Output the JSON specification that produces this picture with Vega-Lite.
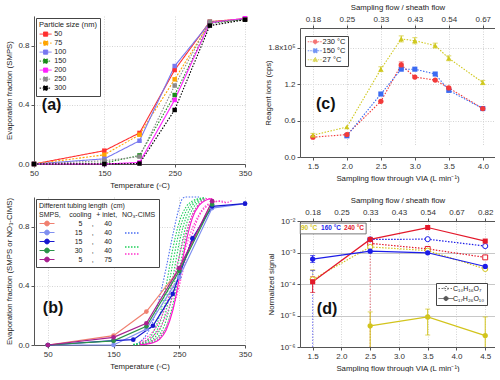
{
"$schema": "https://vega.github.io/schema/vega-lite/v6.json",
"padding": {"left": 5, "top": 3, "right": 0, "bottom": 0},
"config": {
  "font": "Liberation Sans",
  "view": {"stroke": null},
  "axis": {"labelFontSize": 8, "titleFontSize": 7.8, "titleFontWeight": "normal", "labelColor": "#333", "titleColor": "#222", "domainColor": "#555", "tickColor": "#555", "tickSize": 3, "gridColor": "#d4d4d4", "gridDash": [1, 1.5], "labelPadding": 2, "titlePadding": 4, "labelFlush": false, "labelOverlap": false},
  "legend": {"labelColor": "#222", "titleColor": "#222"}
},
"datasets": {
  "a": [
    {"s":"50","T":50,"f":0},{"s":"50","T":150,"f":0.09},{"s":"50","T":200,"f":0.21},{"s":"50","T":250,"f":0.635},{"s":"50","T":300,"f":0.962},{"s":"50","T":350,"f":0.982},
    {"s":"75","T":50,"f":0},{"s":"75","T":150,"f":0.062},{"s":"75","T":200,"f":0.198},{"s":"75","T":250,"f":0.572},{"s":"75","T":300,"f":0.955},{"s":"75","T":350,"f":0.978},
    {"s":"100","T":50,"f":0},{"s":"100","T":150,"f":0.035},{"s":"100","T":200,"f":0.157},{"s":"100","T":250,"f":0.662},{"s":"100","T":300,"f":0.955},{"s":"100","T":350,"f":0.98},
    {"s":"150","T":50,"f":0},{"s":"150","T":150,"f":0.006},{"s":"150","T":200,"f":0.058},{"s":"150","T":250,"f":0.466},{"s":"150","T":300,"f":0.95},{"s":"150","T":350,"f":0.978},
    {"s":"200","T":50,"f":0},{"s":"200","T":150,"f":0},{"s":"200","T":200,"f":0.01},{"s":"200","T":250,"f":0.433},{"s":"200","T":300,"f":0.955},{"s":"200","T":350,"f":0.985},
    {"s":"250","T":50,"f":0},{"s":"250","T":150,"f":0.022},{"s":"250","T":200,"f":0.05},{"s":"250","T":250,"f":0.53},{"s":"250","T":300,"f":0.962},{"s":"250","T":350,"f":0.975},
    {"s":"300","T":50,"f":0},{"s":"300","T":150,"f":0},{"s":"300","T":200,"f":0.003},{"s":"300","T":250,"f":0.365},{"s":"300","T":300,"f":0.935},{"s":"300","T":350,"f":0.975}
  ],
  "bs": [
    {"s":"s1","T":50,"f":0},{"s":"s1","T":150,"f":0.063},{"s":"s1","T":200,"f":0.226},{"s":"s1","T":250,"f":0.51},{"s":"s1","T":300,"f":0.97},
    {"s":"s2","T":50,"f":0},{"s":"s2","T":150,"f":0},{"s":"s2","T":200,"f":0.108},{"s":"s2","T":250,"f":0.458},{"s":"s2","T":300,"f":0.925},{"s":"s2","T":350,"f":0.955},
    {"s":"s3","T":50,"f":0},{"s":"s3","T":150,"f":0.03},{"s":"s3","T":180,"f":0.036},{"s":"s3","T":210,"f":0.13},{"s":"s3","T":240,"f":0.345},{"s":"s3","T":270,"f":0.72},{"s":"s3","T":300,"f":0.937},{"s":"s3","T":350,"f":0.955},
    {"s":"s4","T":50,"f":0},{"s":"s4","T":150,"f":0.028},{"s":"s4","T":200,"f":0.126},{"s":"s4","T":250,"f":0.5},{"s":"s4","T":300,"f":0.95},
    {"s":"s5","T":50,"f":0},{"s":"s5","T":150,"f":0.052},{"s":"s5","T":200,"f":0.147},{"s":"s5","T":250,"f":0.52},{"s":"s5","T":300,"f":0.972}
  ],
  "bn": [
    {"c":"b1","r":"r2","T":180,"f":0},{"c":"b1","r":"r2","T":190,"f":0.02},{"c":"b1","r":"r2","T":200,"f":0.07},{"c":"b1","r":"r2","T":210,"f":0.16},{"c":"b1","r":"r2","T":220,"f":0.32},{"c":"b1","r":"r2","T":230,"f":0.52},{"c":"b1","r":"r2","T":240,"f":0.74},{"c":"b1","r":"r2","T":250,"f":0.93},{"c":"b1","r":"r2","T":255,"f":0.99},{"c":"b1","r":"r2","T":260,"f":1},{"c":"b1","r":"r2","T":270,"f":1},{"c":"b1","r":"r2","T":280,"f":1},
    {"c":"g1","r":"r4","T":180,"f":0.005},{"c":"g1","r":"r4","T":190,"f":0.012},{"c":"g1","r":"r4","T":200,"f":0.032},{"c":"g1","r":"r4","T":210,"f":0.083},{"c":"g1","r":"r4","T":220,"f":0.198},{"c":"g1","r":"r4","T":230,"f":0.4},{"c":"g1","r":"r4","T":240,"f":0.646},{"c":"g1","r":"r4","T":250,"f":0.832},{"c":"g1","r":"r4","T":260,"f":0.931},{"c":"g1","r":"r4","T":270,"f":0.973},{"c":"g1","r":"r4","T":280,"f":0.99},{"c":"g1","r":"r4","T":290,"f":0.996},
    {"c":"g2","r":"r4","T":180,"f":0.003},{"c":"g2","r":"r4","T":190,"f":0.008},{"c":"g2","r":"r4","T":200,"f":0.022},{"c":"g2","r":"r4","T":210,"f":0.057},{"c":"g2","r":"r4","T":220,"f":0.142},{"c":"g2","r":"r4","T":230,"f":0.31},{"c":"g2","r":"r4","T":240,"f":0.55},{"c":"g2","r":"r4","T":250,"f":0.769},{"c":"g2","r":"r4","T":260,"f":0.9},{"c":"g2","r":"r4","T":270,"f":0.961},{"c":"g2","r":"r4","T":280,"f":0.985},{"c":"g2","r":"r4","T":290,"f":0.995},
    {"c":"g3","r":"r4","T":180,"f":0.002},{"c":"g3","r":"r4","T":190,"f":0.006},{"c":"g3","r":"r4","T":200,"f":0.015},{"c":"g3","r":"r4","T":210,"f":0.039},{"c":"g3","r":"r4","T":220,"f":0.1},{"c":"g3","r":"r4","T":230,"f":0.232},{"c":"g3","r":"r4","T":240,"f":0.45},{"c":"g3","r":"r4","T":250,"f":0.69},{"c":"g3","r":"r4","T":260,"f":0.858},{"c":"g3","r":"r4","T":270,"f":0.943},{"c":"g3","r":"r4","T":280,"f":0.978},{"c":"g3","r":"r4","T":290,"f":0.992},
    {"c":"g4","r":"r4","T":190,"f":0.004},{"c":"g4","r":"r4","T":200,"f":0.01},{"c":"g4","r":"r4","T":210,"f":0.027},{"c":"g4","r":"r4","T":220,"f":0.069},{"c":"g4","r":"r4","T":230,"f":0.168},{"c":"g4","r":"r4","T":240,"f":0.354},{"c":"g4","r":"r4","T":250,"f":0.599},{"c":"g4","r":"r4","T":260,"f":0.802},{"c":"g4","r":"r4","T":270,"f":0.917},{"c":"g4","r":"r4","T":280,"f":0.968},{"c":"g4","r":"r4","T":290,"f":0.988},
    {"c":"g5","r":"r4","T":190,"f":0.003},{"c":"g5","r":"r4","T":200,"f":0.007},{"c":"g5","r":"r4","T":210,"f":0.018},{"c":"g5","r":"r4","T":220,"f":0.047},{"c":"g5","r":"r4","T":230,"f":0.119},{"c":"g5","r":"r4","T":240,"f":0.269},{"c":"g5","r":"r4","T":250,"f":0.5},{"c":"g5","r":"r4","T":260,"f":0.731},{"c":"g5","r":"r4","T":270,"f":0.881},{"c":"g5","r":"r4","T":280,"f":0.953},{"c":"g5","r":"r4","T":290,"f":0.982},
    {"c":"m1","r":"r5","T":190,"f":0.01},{"c":"m1","r":"r5","T":200,"f":0.03},{"c":"m1","r":"r5","T":210,"f":0.06},{"c":"m1","r":"r5","T":220,"f":0.11},{"c":"m1","r":"r5","T":230,"f":0.2},{"c":"m1","r":"r5","T":240,"f":0.33},{"c":"m1","r":"r5","T":250,"f":0.5},{"c":"m1","r":"r5","T":260,"f":0.66},{"c":"m1","r":"r5","T":270,"f":0.79},{"c":"m1","r":"r5","T":280,"f":0.88},{"c":"m1","r":"r5","T":290,"f":0.94},{"c":"m1","r":"r5","T":300,"f":0.96},{"c":"m1","r":"r5","T":310,"f":0.97},{"c":"m1","r":"r5","T":320,"f":0.962},{"c":"m1","r":"r5","T":330,"f":0.975},
    {"c":"m2","r":"r5","T":200,"f":0.01},{"c":"m2","r":"r5","T":210,"f":0.03},{"c":"m2","r":"r5","T":220,"f":0.06},{"c":"m2","r":"r5","T":230,"f":0.12},{"c":"m2","r":"r5","T":240,"f":0.24},{"c":"m2","r":"r5","T":250,"f":0.4},{"c":"m2","r":"r5","T":260,"f":0.58},{"c":"m2","r":"r5","T":270,"f":0.75},{"c":"m2","r":"r5","T":280,"f":0.87},{"c":"m2","r":"r5","T":290,"f":0.93},{"c":"m2","r":"r5","T":300,"f":0.958},{"c":"m2","r":"r5","T":310,"f":0.975},{"c":"m2","r":"r5","T":320,"f":0.968},
    {"c":"m3","r":"r5","T":190,"f":0.02},{"c":"m3","r":"r5","T":200,"f":0.05},{"c":"m3","r":"r5","T":210,"f":0.09},{"c":"m3","r":"r5","T":220,"f":0.16},{"c":"m3","r":"r5","T":230,"f":0.27},{"c":"m3","r":"r5","T":240,"f":0.42},{"c":"m3","r":"r5","T":250,"f":0.6},{"c":"m3","r":"r5","T":260,"f":0.76},{"c":"m3","r":"r5","T":270,"f":0.88},{"c":"m3","r":"r5","T":280,"f":0.95},{"c":"m3","r":"r5","T":290,"f":0.99},{"c":"m3","r":"r5","T":300,"f":0.985}
  ],
  "bm": [
    {"T":190,"f":0.002},{"T":200,"f":0.006},{"T":210,"f":0.015},{"T":220,"f":0.039},{"T":230,"f":0.1},{"T":240,"f":0.23},{"T":250,"f":0.45},{"T":260,"f":0.69},{"T":270,"f":0.858},{"T":280,"f":0.943},{"T":290,"f":0.978},{"T":300,"f":0.99}
  ],
  "c": [
    {"s":"230 °C","x":1.5,"v":0.327},{"s":"230 °C","x":2.0,"v":0.37},{"s":"230 °C","x":2.5,"v":0.92},{"s":"230 °C","x":2.8,"v":1.52,"lo":1.47,"hi":1.57},{"s":"230 °C","x":3.0,"v":1.32},{"s":"230 °C","x":3.3,"v":1.27},{"s":"230 °C","x":3.5,"v":1.14},{"s":"230 °C","x":4.0,"v":0.8},
    {"s":"150 °C","x":2.0,"v":0.35},{"s":"150 °C","x":2.5,"v":1.04},{"s":"150 °C","x":2.8,"v":1.45},{"s":"150 °C","x":3.0,"v":1.45},{"s":"150 °C","x":3.3,"v":1.37},{"s":"150 °C","x":3.5,"v":1.1},{"s":"150 °C","x":4.0,"v":0.8},
    {"s":"27 °C","x":1.5,"v":0.36,"lo":0.33,"hi":0.39},{"s":"27 °C","x":2.0,"v":0.495},{"s":"27 °C","x":2.5,"v":1.45,"lo":1.41,"hi":1.49},{"s":"27 °C","x":2.8,"v":1.95,"lo":1.9,"hi":2.0},{"s":"27 °C","x":3.0,"v":1.92,"lo":1.87,"hi":1.97},{"s":"27 °C","x":3.3,"v":1.84,"lo":1.8,"hi":1.88},{"s":"27 °C","x":3.5,"v":1.63,"lo":1.59,"hi":1.67},{"s":"27 °C","x":4.0,"v":1.23,"lo":1.195,"hi":1.265}
  ],
  "d": [
    {"cmp":"B","t":"240","x":1.5,"y":0.000118},{"cmp":"B","t":"240","x":2.5,"y":0.0026},{"cmp":"B","t":"240","x":3.5,"y":0.0062},{"cmp":"B","t":"240","x":4.5,"y":0.0023},
    {"cmp":"B","t":"160","x":1.5,"y":0.00062},{"cmp":"B","t":"160","x":2.5,"y":0.0011},{"cmp":"B","t":"160","x":3.5,"y":0.00098},{"cmp":"B","t":"160","x":4.5,"y":0.00036},
    {"cmp":"B","t":"90","x":2.5,"y":0.0000047},{"cmp":"B","t":"90","x":3.5,"y":0.000009},{"cmp":"B","t":"90","x":4.5,"y":0.0000023},
    {"cmp":"A","t":"240","x":2.5,"y":0.00195},{"cmp":"A","t":"240","x":3.5,"y":0.0013},{"cmp":"A","t":"240","x":4.5,"y":0.0007},
    {"cmp":"A","t":"160","x":2.5,"y":0.0026},{"cmp":"A","t":"160","x":3.5,"y":0.00265},{"cmp":"A","t":"160","x":4.5,"y":0.0016},
    {"cmp":"A","t":"90","x":1.5,"y":0.00014},{"cmp":"A","t":"90","x":2.5,"y":0.0015},{"cmp":"A","t":"90","x":3.5,"y":0.00115},{"cmp":"A","t":"90","x":4.5,"y":0.0003}
  ],
  "de": [
    {"cmp":"B","t":"240","x":1.5,"lo":0.000054,"hi":0.00017},
    {"cmp":"B","t":"160","x":1.5,"lo":0.00048,"hi":0.0008},
    {"cmp":"B","t":"90","x":2.5,"lo":0.000001,"hi":0.000013},
    {"cmp":"B","t":"90","x":3.5,"lo":0.0000024,"hi":0.000016},
    {"cmp":"B","t":"90","x":4.5,"lo":0.000001,"hi":0.000009},
    {"cmp":"A","t":"240","x":2.5,"lo":0.000001,"hi":0.00195},
    {"cmp":"A","t":"160","x":1.5,"lo":0.000001,"hi":0.00027},
    {"cmp":"A","t":"90","x":1.5,"lo":0.00011,"hi":0.00028}
  ]
},
"spacing": 12,
"resolve": {"scale": {"color": "independent", "fill": "independent", "stroke": "independent", "shape": "independent", "strokeDash": "independent"}, "legend": {"color": "independent", "fill": "independent", "stroke": "independent", "shape": "independent", "strokeDash": "independent"}},
"hconcat": [
 {"spacing": 5,
  "resolve": {"scale": {"color": "independent", "fill": "independent", "stroke": "independent", "shape": "independent", "strokeDash": "independent"}, "legend": {"color": "independent", "fill": "independent", "stroke": "independent", "shape": "independent", "strokeDash": "independent"}},
  "vconcat": [
  {
   "width": 211, "height": 148,
   "layer": [
    {"data": {"name": "a"}, "mark": {"type": "line", "strokeWidth": 1.1},
     "encoding": {
      "x": {"field": "T", "type": "quantitative", "title": "Temperature (\u25e6C)", "scale": {"domain": [50, 350], "nice": false}, "axis": {"values": [50,100,150,200,250,300,350], "format": "d"}},
      "y": {"field": "f", "type": "quantitative", "title": "Evaporation fraction (SMPS)", "scale": {"domain": [0, 1], "nice": false}, "axis": {"values": [0,0.2,0.4,0.6,0.8,1], "format": ".1f"}},
      "color": {"field": "s", "type": "nominal", "scale": {"domain": ["50","75","100","150","200","250","300"], "range": ["#ff3030","#ffa500","#7878f0","#1a8c1a","#ff20ff","#8a8a8a","#000000"]},
        "legend": {"title": "Particle size (nm)", "orient": "top-left", "offset": 2, "fillColor": "white", "strokeColor": "#444", "padding": 3, "titleFontSize": 7.5, "titleFontWeight": "normal", "titlePadding": 2, "labelFontSize": 7.2, "symbolType": "M-1,0H3M0.3,-0.7H1.7V0.7H0.3Z", "symbolSize": 36, "symbolStrokeWidth": 1, "symbolFillColor": "transparent", "rowPadding": 0, "labelOffset": 8}},
      "strokeDash": {"field": "s", "type": "nominal", "scale": {"domain": ["50","75","100","150","200","250","300"], "range": [[1,0],[2,1.5],[1,0],[1.5,1.5],[1,0],[1.5,1.5],[1.5,1.5]]},
        "legend": {"title": "Particle size (nm)", "orient": "top-left", "offset": 2, "fillColor": "white", "strokeColor": "#444", "padding": 3, "titleFontSize": 7.5, "titleFontWeight": "normal", "titlePadding": 2, "labelFontSize": 7.2, "symbolType": "M-1,0H3M0.3,-0.7H1.7V0.7H0.3Z", "symbolSize": 36, "symbolStrokeWidth": 1, "symbolFillColor": "transparent", "rowPadding": 0, "labelOffset": 8}}}},
    {"data": {"name": "a"}, "mark": {"type": "point", "shape": "square", "filled": true, "size": 20, "opacity": 1},
     "encoding": {
      "x": {"field": "T", "type": "quantitative", "title": "Temperature (\u25e6C)"},
      "y": {"field": "f", "type": "quantitative", "title": "Evaporation fraction (SMPS)"},
      "color": {"field": "s", "type": "nominal",
        "legend": {"title": "Particle size (nm)", "orient": "top-left", "offset": 2, "fillColor": "white", "strokeColor": "#444", "padding": 3, "titleFontSize": 7.5, "titleFontWeight": "normal", "titlePadding": 2, "labelFontSize": 7.2, "symbolType": "M-1,0H3M0.3,-0.7H1.7V0.7H0.3Z", "symbolSize": 36, "symbolStrokeWidth": 1, "symbolFillColor": "transparent", "rowPadding": 0, "labelOffset": 8}}}},
    {"data": {"values": [{}]}, "mark": {"type": "text", "fontSize": 16, "fontWeight": "bold", "color": "#111", "baseline": "middle"},
     "encoding": {"x": {"datum": 75, "type": "quantitative"}, "y": {"datum": 0.4, "type": "quantitative"}, "text": {"value": "(a)"}}}
   ]
  },
  {
   "width": 211, "height": 148,
   "layer": [
    {"data": {"name": "bn"}, "mark": {"type": "line", "strokeDash": [1.5, 1.5], "strokeWidth": 1.1, "interpolate": "monotone"},
     "encoding": {
      "x": {"field": "T", "type": "quantitative", "title": "Temperature (\u25e6C)", "scale": {"domain": [29, 350], "nice": false}, "axis": {"values": [50,100,150,200,250,300,350], "format": "d"}},
      "y": {"field": "f", "type": "quantitative", "title": "Evaporation fraction (SMPS or NO\u2083-CIMS)", "scale": {"domain": [0, 1], "nice": false}, "axis": {"values": [0,0.2,0.4,0.6,0.8,1], "format": ".1f"}},
      "stroke": {"field": "r", "type": "nominal", "scale": {"domain": ["r1","r2","r3","r4","r5"], "range": ["transparent","#4a6ef2","transparent","#1fcf5a","#ff33cc"]},
        "legend": {"title": null, "orient": "none", "legendX": 90, "legendY": 25, "zindex": 2, "padding": 0, "labelFontSize": 7, "symbolType": "M-1,0H4", "symbolSize": 36, "symbolStrokeWidth": 1.3, "symbolDash": [1.5, 1.5], "rowPadding": 0, "labelExpr": "'\u2007'", "labelOffset": 0}},
      "detail": {"field": "c", "type": "nominal"}}},
    {"data": {"name": "bm"}, "mark": {"type": "line", "color": "#ff10d0", "strokeWidth": 1.1, "interpolate": "monotone"},
     "encoding": {"x": {"field": "T", "type": "quantitative", "title": "Temperature (\u25e6C)"}, "y": {"field": "f", "type": "quantitative", "title": "Evaporation fraction (SMPS or NO\u2083-CIMS)"}}},
    {"data": {"name": "bs"}, "mark": {"type": "line", "strokeWidth": 1.2},
     "encoding": {
      "x": {"field": "T", "type": "quantitative", "title": "Temperature (\u25e6C)"},
      "y": {"field": "f", "type": "quantitative", "title": "Evaporation fraction (SMPS or NO\u2083-CIMS)"},
      "color": {"field": "s", "type": "nominal", "scale": {"domain": ["s1","s2","s3","s4","s5"], "range": ["#f08070","#8090f0","#1818d0","#2a9448","#a82090"]},
        "legend": {"title": ["Different tubing length\u2002(cm)", "SMPS,\u2002\u2002\u2009cooling\u2002\u2009+ inlet,\u2002\u2009NO\u2083-CIMS"], "orient": "top-left", "offset": 2, "zindex": 1, "fillColor": "white", "strokeColor": "#444", "padding": 3, "titleFontSize": 7, "titleFontWeight": "normal", "titlePadding": 2, "titleLineHeight": 9, "labelFontSize": 7, "labelAlign": "right", "symbolType": "M-1,0H4M2.3,0A0.8,0.8,0,1,1,0.7,0A0.8,0.8,0,1,1,2.3,0Z", "symbolSize": 36, "symbolStrokeWidth": 1, "symbolFillColor": "transparent", "rowPadding": 0, "labelOffset": 66,
          "labelExpr": "datum.value=='s1'?'5\u2007\u2007\u2009,\u2007\u2007\u2009\u200940':datum.value=='s5'?'5\u2007\u2007\u2009,\u2007\u2007\u2009\u200975':datum.value=='s4'?'30\u2007\u2007\u2009,\u2007\u2007\u2009\u200940':'15\u2007\u2007\u2009,\u2007\u2007\u2009\u200940'"}}}},
    {"data": {"name": "bs"}, "mark": {"type": "point", "shape": "circle", "filled": true, "size": 22, "opacity": 1},
     "encoding": {
      "x": {"field": "T", "type": "quantitative", "title": "Temperature (\u25e6C)"},
      "y": {"field": "f", "type": "quantitative", "title": "Evaporation fraction (SMPS or NO\u2083-CIMS)"},
      "color": {"field": "s", "type": "nominal",
        "legend": {"title": ["Different tubing length\u2002(cm)", "SMPS,\u2002\u2002\u2009cooling\u2002\u2009+ inlet,\u2002\u2009NO\u2083-CIMS"], "orient": "top-left", "offset": 2, "zindex": 1, "fillColor": "white", "strokeColor": "#444", "padding": 3, "titleFontSize": 7, "titleFontWeight": "normal", "titlePadding": 2, "titleLineHeight": 9, "labelFontSize": 7, "labelAlign": "right", "symbolType": "M-1,0H4M2.3,0A0.8,0.8,0,1,1,0.7,0A0.8,0.8,0,1,1,2.3,0Z", "symbolSize": 36, "symbolStrokeWidth": 1, "symbolFillColor": "transparent", "rowPadding": 0, "labelOffset": 66,
          "labelExpr": "datum.value=='s1'?'5\u2007\u2007\u2009,\u2007\u2007\u2009\u200940':datum.value=='s5'?'5\u2007\u2007\u2009,\u2007\u2007\u2009\u200975':datum.value=='s4'?'30\u2007\u2007\u2009,\u2007\u2007\u2009\u200940':'15\u2007\u2007\u2009,\u2007\u2007\u2009\u200940'"}}}},
    {"data": {"values": [{}]}, "mark": {"type": "text", "fontSize": 16, "fontWeight": "bold", "color": "#111", "baseline": "middle"},
     "encoding": {"x": {"datum": 58, "type": "quantitative"}, "y": {"datum": 0.25, "type": "quantitative"}, "text": {"value": "(b)"}}}
   ]
  }
 ]},
 {"spacing": 14,
  "resolve": {"scale": {"color": "independent", "fill": "independent", "stroke": "independent", "shape": "independent", "strokeDash": "independent"}, "legend": {"color": "independent", "fill": "independent", "stroke": "independent", "shape": "independent", "strokeDash": "independent"}},
  "vconcat": [
  {
   "width": 195, "height": 141,
   "data": {"name": "c"},
   "resolve": {"axis": {"x": "independent"}},
   "layer": [
    {"mark": {"type": "line", "strokeDash": [1.5, 1.5], "strokeWidth": 1.1},
     "encoding": {
      "x": {"field": "x", "type": "quantitative", "title": "Sampling flow through VIA (L min\u207b\u00b9)", "scale": {"domain": [1.31, 4.18], "nice": false}, "axis": {"values": [1.5,2,2.5,3,3.5,4], "format": ".1f"}},
      "y": {"field": "v", "type": "quantitative", "title": "Reagent ions (cps)", "scale": {"domain": [0, 2.13], "nice": false, "range": [141, 12]}, "axis": {"values": [0,0.6,1.2,1.8], "format": ".1f", "labelExpr": "datum.value==1.8?'1.8x10\u2075':datum.label", "titleX": -28}},
      "color": {"field": "s", "type": "nominal", "scale": {"domain": ["230 °C","150 °C","27 °C"], "range": ["#f23a3a","#3a6af2","#cfc81e"]},
        "legend": {"title": null, "orient": "none", "legendX": 5, "legendY": 20, "fillColor": "white", "strokeColor": "#444", "padding": 2, "labelFontSize": 7.5, "symbolSize": 36, "symbolStrokeWidth": 1, "symbolDash": [1.5, 1], "symbolFillColor": "transparent", "rowPadding": 0, "labelOffset": 8}}}},
    {"transform": [{"filter": "isValid(datum.lo)"}], "mark": {"type": "rule", "strokeWidth": 1},
     "encoding": {"x": {"field": "x", "type": "quantitative", "axis": null}, "y": {"field": "lo", "type": "quantitative", "title": "Reagent ions (cps)"}, "y2": {"field": "hi"},
      "color": {"field": "s", "type": "nominal", "legend": {"title": null, "orient": "none", "legendX": 5, "legendY": 20, "fillColor": "white", "strokeColor": "#444", "padding": 2, "labelFontSize": 7.5, "symbolSize": 36, "symbolStrokeWidth": 1, "symbolDash": [1.5, 1], "symbolFillColor": "transparent", "rowPadding": 0, "labelOffset": 8}}}},
    {"transform": [{"filter": "isValid(datum.lo)"}], "mark": {"type": "tick", "orient": "horizontal", "size": 5, "thickness": 1},
     "encoding": {"x": {"field": "x", "type": "quantitative", "axis": null}, "y": {"field": "hi", "type": "quantitative", "title": "Reagent ions (cps)"},
      "color": {"field": "s", "type": "nominal", "legend": {"title": null, "orient": "none", "legendX": 5, "legendY": 20, "fillColor": "white", "strokeColor": "#444", "padding": 2, "labelFontSize": 7.5, "symbolSize": 36, "symbolStrokeWidth": 1, "symbolDash": [1.5, 1], "symbolFillColor": "transparent", "rowPadding": 0, "labelOffset": 8}}}},
    {"transform": [{"filter": "isValid(datum.lo)"}], "mark": {"type": "tick", "orient": "horizontal", "size": 5, "thickness": 1},
     "encoding": {"x": {"field": "x", "type": "quantitative", "axis": null}, "y": {"field": "lo", "type": "quantitative", "title": "Reagent ions (cps)"},
      "color": {"field": "s", "type": "nominal", "legend": {"title": null, "orient": "none", "legendX": 5, "legendY": 20, "fillColor": "white", "strokeColor": "#444", "padding": 2, "labelFontSize": 7.5, "symbolSize": 36, "symbolStrokeWidth": 1, "symbolDash": [1.5, 1], "symbolFillColor": "transparent", "rowPadding": 0, "labelOffset": 8}}}},
    {"transform": [{"filter": "datum.s=='150 °C'"}], "mark": {"type": "point", "shape": "square", "filled": true, "size": 26, "opacity": 1},
     "encoding": {"x": {"field": "x", "type": "quantitative", "axis": null}, "y": {"field": "v", "type": "quantitative", "title": "Reagent ions (cps)"},
      "color": {"field": "s", "type": "nominal", "legend": {"title": null, "orient": "none", "legendX": 5, "legendY": 20, "fillColor": "white", "strokeColor": "#444", "padding": 2, "labelFontSize": 7.5, "symbolSize": 36, "symbolStrokeWidth": 1, "symbolDash": [1.5, 1], "symbolFillColor": "transparent", "rowPadding": 0, "labelOffset": 8}}}},
    {"transform": [{"filter": "datum.s=='230 °C'"}], "mark": {"type": "point", "shape": "circle", "filled": true, "size": 28, "opacity": 1},
     "encoding": {"x": {"field": "x", "type": "quantitative", "title": "Sampling flow / sheath flow", "axis": {"orient": "top", "offset": -12, "values": [1.5,2,2.5,3,3.5,4], "grid": false, "labelExpr": "datum.value<1.7?'0.18':datum.value<2.2?'0.25':datum.value<2.7?'0.33':datum.value<3.2?'0.43':datum.value<3.7?'0.54':datum.value<4.2?'0.67':'0.82'"}}, "y": {"field": "v", "type": "quantitative", "title": "Reagent ions (cps)"},
      "color": {"field": "s", "type": "nominal", "legend": {"title": null, "orient": "none", "legendX": 5, "legendY": 20, "fillColor": "white", "strokeColor": "#444", "padding": 2, "labelFontSize": 7.5, "symbolSize": 36, "symbolStrokeWidth": 1, "symbolDash": [1.5, 1], "symbolFillColor": "transparent", "rowPadding": 0, "labelOffset": 8}}}},
    {"transform": [{"filter": "datum.s=='27 °C'"}], "mark": {"type": "point", "shape": "triangle-up", "filled": true, "size": 28, "opacity": 1},
     "encoding": {"x": {"field": "x", "type": "quantitative", "axis": null}, "y": {"field": "v", "type": "quantitative", "title": "Reagent ions (cps)"},
      "color": {"field": "s", "type": "nominal", "legend": {"title": null, "orient": "none", "legendX": 5, "legendY": 20, "fillColor": "white", "strokeColor": "#444", "padding": 2, "labelFontSize": 7.5, "symbolSize": 36, "symbolStrokeWidth": 1, "symbolDash": [1.5, 1], "symbolFillColor": "transparent", "rowPadding": 0, "labelOffset": 8}}}},
    {"transform": [{"filter": "false"}], "mark": {"type": "point", "filled": true},
     "encoding": {"x": {"field": "x", "type": "quantitative", "axis": null}, "y": {"field": "v", "type": "quantitative", "title": "Reagent ions (cps)"},
      "color": {"field": "s", "type": "nominal", "legend": {"title": null, "orient": "none", "legendX": 5, "legendY": 20, "fillColor": "white", "strokeColor": "#444", "padding": 2, "labelFontSize": 7.5, "symbolSize": 36, "symbolStrokeWidth": 1, "symbolDash": [1.5, 1], "symbolFillColor": "transparent", "rowPadding": 0, "labelOffset": 8}},
      "shape": {"field": "s", "type": "nominal", "scale": {"domain": ["230 °C","150 °C","27 °C"], "range": ["M-1,0H4M2.2,0A0.7,0.7,0,1,1,0.8,0A0.7,0.7,0,1,1,2.2,0Z", "M-1,0H4M0.85,-0.65H2.15V0.65H0.85Z", "M-1,0H4M1.5,-0.85L2.3,0.6H0.7Z"]},
        "legend": {"title": null, "orient": "none", "legendX": 5, "legendY": 20, "fillColor": "white", "strokeColor": "#444", "padding": 2, "labelFontSize": 7.5, "symbolSize": 36, "symbolStrokeWidth": 1, "symbolDash": [1.5, 1], "symbolFillColor": "transparent", "rowPadding": 0, "labelOffset": 8}}}},
    {"data": {"values": [{}]}, "mark": {"type": "text", "fontSize": 16, "fontWeight": "bold", "color": "#111", "baseline": "middle"},
     "encoding": {"x": {"datum": 1.69, "type": "quantitative", "axis": null}, "y": {"datum": 0.876, "type": "quantitative"}, "text": {"value": "(c)"}}}
   ]
  },
  {
   "width": 195, "height": 126,
   "resolve": {"axis": {"x": "independent"}},
   "layer": [
    {"data": {"name": "d"}, "transform": [{"filter": "datum.cmp=='A'"}], "mark": {"type": "line", "strokeWidth": 1.2, "strokeDash": [1.5, 1.5]},
     "encoding": {
      "x": {"field": "x", "type": "quantitative", "title": "Sampling flow through VIA (L min\u207b\u00b9)", "scale": {"domain": [1.28, 4.67], "nice": false}, "axis": {"values": [1.5,2,2.5,3,3.5,4,4.5], "format": ".1f"}},
      "y": {"field": "y", "type": "quantitative", "title": "Normalized signal", "scale": {"type": "log", "domain": [0.000001, 0.01], "nice": false}, "axis": {"values": [0.000001,0.00001,0.0001,0.001,0.01], "gridDash": [], "gridColor": "#c8c8c8", "labelExpr": "'10' + (datum.value < 5e-6 ? '\u207b\u2076' : datum.value < 5e-5 ? '\u207b\u2075' : datum.value < 5e-4 ? '\u207b\u2074' : datum.value < 5e-3 ? '\u207b\u00b3' : '\u207b\u00b2')"}},
      "color": {"field": "t", "type": "nominal", "scale": {"domain": ["90","160","240"], "range": ["#d2c41c","#1c1ce8","#e3192b"]}, "legend": null}}},
    {"data": {"name": "d"}, "transform": [{"filter": "datum.cmp=='B'"}], "mark": {"type": "line", "strokeWidth": 1.2},
     "encoding": {"x": {"field": "x", "type": "quantitative", "axis": null}, "y": {"field": "y", "type": "quantitative", "title": "Normalized signal"}, "color": {"field": "t", "type": "nominal", "legend": null}}},
    {"data": {"name": "de"}, "transform": [{"filter": "datum.cmp=='A'"}], "mark": {"type": "rule", "strokeWidth": 1, "opacity": 0.6, "strokeDash": [1.5, 1.5]},
     "encoding": {"x": {"field": "x", "type": "quantitative", "axis": null}, "y": {"field": "lo", "type": "quantitative", "title": "Normalized signal"}, "y2": {"field": "hi"}, "color": {"field": "t", "type": "nominal", "legend": null}}},
    {"data": {"name": "de"}, "transform": [{"filter": "datum.cmp=='B'"}], "mark": {"type": "rule", "strokeWidth": 1},
     "encoding": {"x": {"field": "x", "type": "quantitative", "axis": null}, "y": {"field": "lo", "type": "quantitative", "title": "Normalized signal"}, "y2": {"field": "hi"}, "color": {"field": "t", "type": "nominal", "legend": null}}},
    {"data": {"name": "de"}, "transform": [{"filter": "datum.cmp=='B' || datum.t!='240'"}], "mark": {"type": "tick", "orient": "horizontal", "size": 5, "thickness": 1},
     "encoding": {"x": {"field": "x", "type": "quantitative", "axis": null}, "y": {"field": "hi", "type": "quantitative", "title": "Normalized signal"}, "color": {"field": "t", "type": "nominal", "legend": null}}},
    {"data": {"name": "de"}, "transform": [{"filter": "datum.lo > 0.00000101"}], "mark": {"type": "tick", "orient": "horizontal", "size": 5, "thickness": 1},
     "encoding": {"x": {"field": "x", "type": "quantitative", "axis": null}, "y": {"field": "lo", "type": "quantitative", "title": "Normalized signal"}, "color": {"field": "t", "type": "nominal", "legend": null}}},
    {"data": {"name": "d"}, "transform": [{"filter": "datum.cmp=='A' && datum.t=='240'"}], "mark": {"type": "point", "shape": "square", "filled": false, "fill": "white", "size": 24, "strokeWidth": 1, "opacity": 1},
     "encoding": {"x": {"field": "x", "type": "quantitative", "axis": null}, "y": {"field": "y", "type": "quantitative", "title": "Normalized signal"}, "color": {"field": "t", "type": "nominal", "legend": null}}},
    {"data": {"name": "d"}, "transform": [{"filter": "datum.cmp=='A' && datum.t!='240'"}], "mark": {"type": "point", "shape": "circle", "filled": false, "fill": "white", "size": 26, "strokeWidth": 1, "opacity": 1},
     "encoding": {"x": {"field": "x", "type": "quantitative", "axis": null}, "y": {"field": "y", "type": "quantitative", "title": "Normalized signal"}, "color": {"field": "t", "type": "nominal", "legend": null}}},
    {"data": {"name": "d"}, "transform": [{"filter": "datum.cmp=='B' && datum.t=='240'"}], "mark": {"type": "point", "shape": "square", "filled": true, "size": 26, "opacity": 1},
     "encoding": {"x": {"field": "x", "type": "quantitative", "axis": null}, "y": {"field": "y", "type": "quantitative", "title": "Normalized signal"}, "color": {"field": "t", "type": "nominal", "legend": null}}},
    {"data": {"name": "d"}, "transform": [{"filter": "datum.cmp=='B' && datum.t!='240'"}], "mark": {"type": "point", "shape": "circle", "filled": true, "size": 28, "opacity": 1},
     "encoding": {"x": {"field": "x", "type": "quantitative", "title": "Sampling flow / sheath flow", "axis": {"orient": "top", "values": [1.5,2,2.5,3,3.5,4,4.5], "grid": false, "labelExpr": "datum.value<1.7?'0.18':datum.value<2.2?'0.25':datum.value<2.7?'0.33':datum.value<3.2?'0.43':datum.value<3.7?'0.54':datum.value<4.2?'0.67':'0.82'"}}, "y": {"field": "y", "type": "quantitative", "title": "Normalized signal"}, "color": {"field": "t", "type": "nominal", "legend": null}}},
    {"data": {"name": "d"}, "transform": [{"filter": "false"}], "mark": {"type": "point", "filled": true},
     "encoding": {"x": {"field": "x", "type": "quantitative", "axis": null}, "y": {"field": "y", "type": "quantitative", "title": "Normalized signal"},
      "fill": {"field": "cmp", "type": "nominal", "scale": {"domain": ["A","B"], "range": ["white","#111111"]},
        "legend": {"title": null, "orient": "none", "legendX": 136, "legendY": 62, "fillColor": "white", "strokeColor": "#444", "padding": 2, "labelFontSize": 7, "symbolSize": 36, "symbolStrokeWidth": 1, "symbolFillColor": "transparent", "rowPadding": 1, "labelOffset": 8, "labelExpr": "datum.value=='A'?'C\u2081\u2080H\u2081\u2086O\u2087':'C\u2081\u2087H\u2082\u2086O\u2081\u2080'"}},
      "stroke": {"field": "cmp", "type": "nominal", "scale": {"domain": ["A","B"], "range": ["#333333","#111111"]},
        "legend": {"title": null, "orient": "none", "legendX": 136, "legendY": 62, "fillColor": "white", "strokeColor": "#444", "padding": 2, "labelFontSize": 7, "symbolSize": 36, "symbolStrokeWidth": 1, "symbolFillColor": "transparent", "rowPadding": 1, "labelOffset": 8, "labelExpr": "datum.value=='A'?'C\u2081\u2080H\u2081\u2086O\u2087':'C\u2081\u2087H\u2082\u2086O\u2081\u2080'"}},
      "shape": {"field": "cmp", "type": "nominal", "scale": {"domain": ["A","B"], "range": ["M-1,0H4M2.2,0A0.7,0.7,0,1,1,0.8,0A0.7,0.7,0,1,1,2.2,0Z", "M-1,0H4M2.2,0A0.7,0.7,0,1,1,0.8,0A0.7,0.7,0,1,1,2.2,0Z"]},
        "legend": {"title": null, "orient": "none", "legendX": 136, "legendY": 62, "fillColor": "white", "strokeColor": "#444", "padding": 2, "labelFontSize": 7, "symbolSize": 36, "symbolStrokeWidth": 1, "symbolFillColor": "transparent", "rowPadding": 1, "labelOffset": 8, "labelExpr": "datum.value=='A'?'C\u2081\u2080H\u2081\u2086O\u2087':'C\u2081\u2087H\u2082\u2086O\u2081\u2080'"}},
      "strokeDash": {"field": "cmp", "type": "nominal", "scale": {"domain": ["A","B"], "range": [[1.5,1.5],[1,0]]},
        "legend": {"title": null, "orient": "none", "legendX": 136, "legendY": 62, "fillColor": "white", "strokeColor": "#444", "padding": 2, "labelFontSize": 7, "symbolSize": 36, "symbolStrokeWidth": 1, "symbolFillColor": "transparent", "rowPadding": 1, "labelOffset": 8, "labelExpr": "datum.value=='A'?'C\u2081\u2080H\u2081\u2086O\u2087':'C\u2081\u2087H\u2082\u2086O\u2081\u2080'"}}}},
    {"data": {"values": [{}]}, "mark": {"type": "rect", "fill": "white", "stroke": "#555", "strokeWidth": 0.8},
     "encoding": {"x": {"datum": 1.285, "type": "quantitative", "axis": null}, "x2": {"datum": 2.43}, "y": {"datum": 0.0086, "type": "quantitative"}, "y2": {"datum": 0.0039}}},
    {"data": {"values": [{}]}, "mark": {"type": "text", "fontSize": 6.5, "fontWeight": "bold", "align": "left", "baseline": "middle", "color": "#d2c41c"},
     "encoding": {"x": {"datum": 1.297, "type": "quantitative", "axis": null}, "y": {"datum": 0.0058, "type": "quantitative"}, "text": {"value": "90 °C"}}},
    {"data": {"values": [{}]}, "mark": {"type": "text", "fontSize": 6.5, "fontWeight": "bold", "align": "left", "baseline": "middle", "color": "#1c1ce8"},
     "encoding": {"x": {"datum": 1.646, "type": "quantitative", "axis": null}, "y": {"datum": 0.0058, "type": "quantitative"}, "text": {"value": "160 °C"}}},
    {"data": {"values": [{}]}, "mark": {"type": "text", "fontSize": 6.5, "fontWeight": "bold", "align": "left", "baseline": "middle", "color": "#e3192b"},
     "encoding": {"x": {"datum": 2.047, "type": "quantitative", "axis": null}, "y": {"datum": 0.0058, "type": "quantitative"}, "text": {"value": "240 °C"}}},
    {"data": {"values": [{}]}, "mark": {"type": "text", "fontSize": 16, "fontWeight": "bold", "color": "#111", "baseline": "middle"},
     "encoding": {"x": {"datum": 1.75, "type": "quantitative", "axis": null}, "y": {"datum": 0.0000166, "type": "quantitative"}, "text": {"value": "(d)"}}}
   ]
  }
 ]}
]
}
